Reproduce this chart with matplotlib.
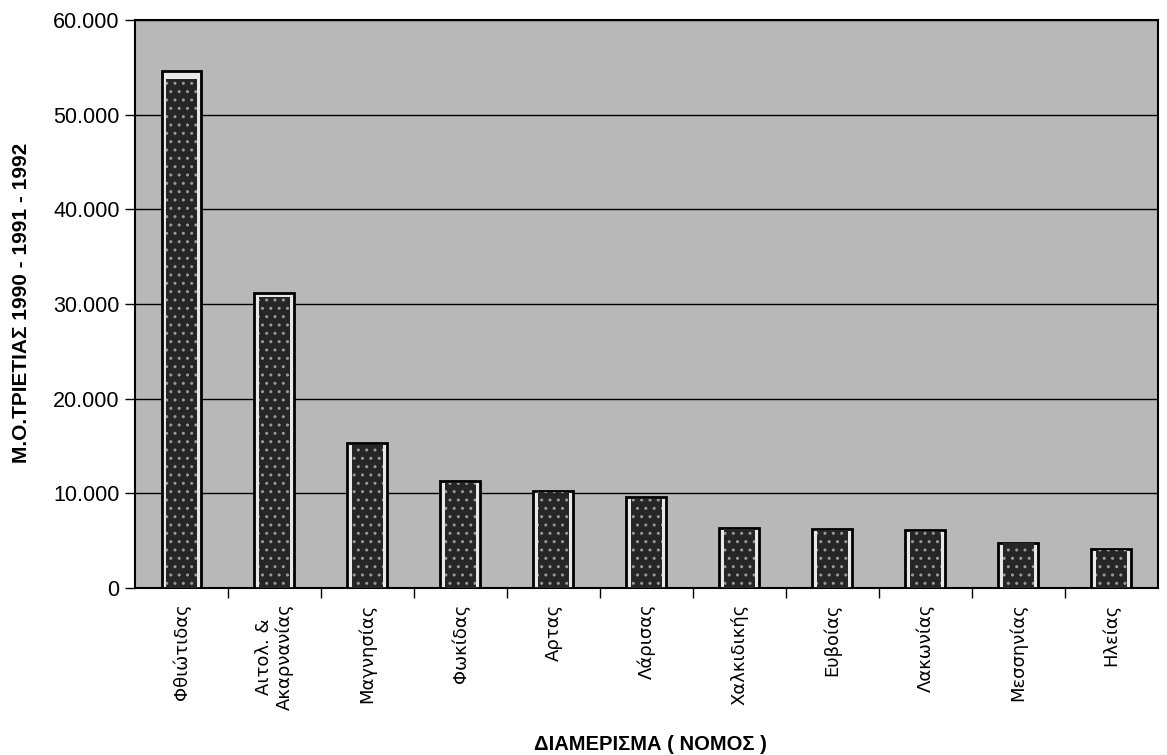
import numpy as np
import matplotlib.pyplot as plt
from matplotlib.ticker import FuncFormatter

# Μέσος όρος τριετίας ανά νομό
nomoi = ['Φθιώτιδας', 'Αιτολ. &\nΑκαρνανίας', 'Μαγνησίας', 'Φωκίδας', 'Αρτας',
         'Λάρισας', 'Χαλκιδικής', 'Ευβοίας', 'Λακωνίας', 'Μεσσηνίας', 'Ηλείας']
mo_trietias = [54600, 31200, 15300, 11300, 10300, 9600, 6350, 6200, 6100, 4800, 4100]

plt.rcParams['font.family'] = ['Liberation Sans', 'DejaVu Sans']

fig = plt.figure(figsize=(11.67, 7.55), dpi=100)
ax = fig.add_axes([0.1157, 0.221, 0.8763, 0.7525])
ax.set_facecolor('#b8b8b8')

x = np.arange(len(nomoi))
# εξωτερικό πλαίσιο + λευκό περίγραμμα + σκούρο γέμισμα
ax.bar(x, mo_trietias, width=0.43, color='#e8e8e8', edgecolor='black', linewidth=2, zorder=3)
ax.bar(x, np.array(mo_trietias) * 0.985, width=0.33, color='#262626', edgecolor='none', zorder=4)
ax.bar(x, np.array(mo_trietias) * 0.985, width=0.33, color='none', edgecolor='#9a9a9a',
       hatch='..', linewidth=0, zorder=5)

ax.set_xlim(-0.5, len(nomoi) - 0.5)
ax.set_ylim(0, 60000)
ax.set_yticks(np.arange(0, 60001, 10000))
ax.yaxis.set_major_formatter(FuncFormatter(lambda v, p: '0' if v == 0 else f'{int(v):,}'.replace(',', '.')))
ax.grid(axis='y', color='black', linewidth=1, zorder=1)

ax.set_xticks(x)
ax.set_xticklabels(nomoi, rotation=90, fontsize=13, va='top', ha='center', family='DejaVu Sans')
ax.set_xticks(np.arange(0.5, len(nomoi) - 1, 1), minor=True)
ax.tick_params(axis='x', which='major', length=0, pad=11)
ax.tick_params(axis='x', which='minor', length=7, width=1)
ax.tick_params(axis='y', labelsize=15.5, length=7, width=1, pad=4)

for s in ax.spines.values():
    s.set_linewidth(1.5)

fig.text(22 / 1167, 1 - 303 / 755, 'Μ.Ο.ΤΡΙΕΤΙΑΣ 1990 - 1991 - 1992', rotation=90,
         fontsize=15, fontweight='bold', ha='center', va='center')
fig.text(650 / 1167, 1 - 744 / 755, 'ΔΙΑΜΕΡΙΣΜΑ ( ΝΟΜΟΣ )',
         fontsize=14.5, fontweight='bold', ha='center', va='center')

fig.savefig('out.png', dpi=100)
